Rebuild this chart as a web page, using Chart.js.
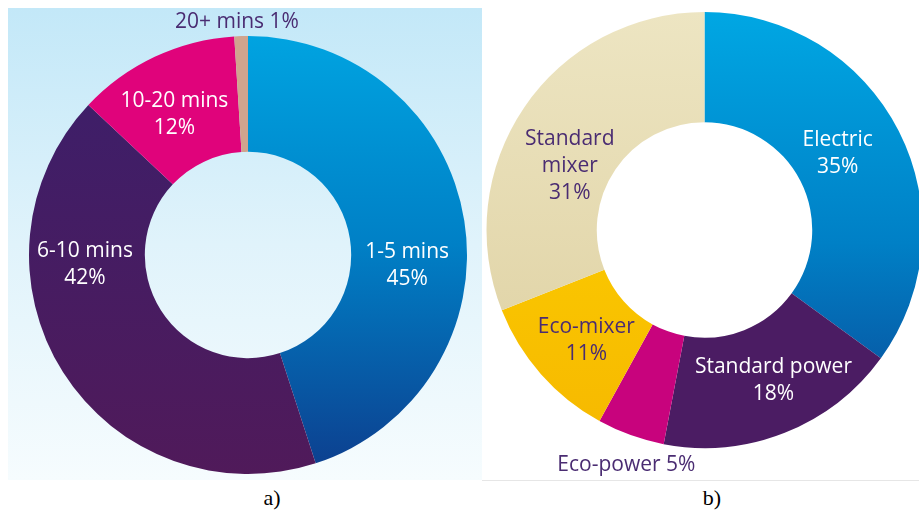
<!DOCTYPE html>
<html>
<head>
<meta charset="utf-8">
<script src="https://cdn.jsdelivr.net/npm/chart.js@4.4.1/dist/chart.umd.min.js"></script>
<style>
  html, body { margin: 0; padding: 0; width: 919px; height: 511px; overflow: hidden; background: #ffffff; }
  #panelA { position: absolute; left: 8px; top: 8px; width: 474px; height: 472px;
            background: linear-gradient(to bottom, #c3e8f8 0%, #e0f3fb 50%, #f6fcfe 100%); }
  #panelB { position: absolute; left: 482px; top: 6px; width: 437px; height: 474px;
            background: #ffffff; border-bottom: 1px solid #e6e6e6; }
  canvas { position: absolute; left: 0; top: 0; }
  .cap { position: absolute; top: 485px; font-family: "Liberation Serif", "Times New Roman", serif;
         font-size: 22px; color: #000; width: 40px; text-align: center; }
</style>
</head>
<body>
<div id="panelA"><canvas id="chartA" width="474" height="472"></canvas></div>
<div id="panelB"><canvas id="chartB" width="437" height="474"></canvas></div>
<div class="cap" style="left:252px;">a)</div>
<div class="cap" style="left:692px;">b)</div>
<script>
// ---- Data (a): time spent ----
const timeCategories = ["1-5 mins", "6-10 mins", "10-20 mins", "20+ mins"];
const timeValues = [45, 42, 12, 1];
const timeLabelNames = ["1-5 mins", "6-10 mins", "10-20 mins", "20+ mins"];

// ---- Data (b): shower type ----
const showerCategories = ["Electric", "Standard power", "Eco-power", "Eco-mixer", "Standard mixer"];
const showerValues = [35, 18, 5, 11, 31];
const showerLabelNames = ["Electric", "Standard power", "Eco-power", "Eco-mixer", "Standard\nmixer"];

const FONT = '"Open Sans", "Noto Sans", sans-serif';
const PURPLE_TEXT = '#4a2c72';

function vGrad(ctx, chart, stops) {
  const m = chart.getDatasetMeta(0);
  const a = m.data[0];
  let top = 0, bottom = chart.height;
  if (a && a.outerRadius) { top = a.y - a.outerRadius; bottom = a.y + a.outerRadius; }
  const g = ctx.createLinearGradient(0, top, 0, bottom);
  stops.forEach(s => g.addColorStop(s[0], s[1]));
  return g;
}

const labelPlugin = {
  id: 'sliceLabels',
  afterDatasetsDraw(chart, args, opts) {
    const ctx = chart.ctx;
    const meta = chart.getDatasetMeta(0);
    const ds = chart.data.datasets[0];
    ctx.save();
    ctx.textAlign = 'center';
    ctx.textBaseline = 'middle';
    ctx.font = opts.fontSize + 'px ' + FONT;
    meta.data.forEach((arc, i) => {
      const cfg = opts.items[i];
      const c = arc.getCenterPoint();
      const lines = opts.names[i].split('\n');
      const pct = ds.data[i] + '%';
      if (cfg.inline) { lines[lines.length - 1] += ' ' + pct; } else { lines.push(pct); }
      const lh = opts.lineHeight;
      const x = c.x + cfg.dx;
      const y0 = c.y + cfg.dy - (lines.length - 1) * lh / 2;
      ctx.fillStyle = cfg.color;
      lines.forEach((ln, k) => ctx.fillText(ln, x, y0 + k * lh));
    });
    ctx.restore();
  }
};

const baseOpts = {
  responsive: false,
  animation: false,
  events: [],
  plugins: { legend: { display: false }, tooltip: { enabled: false } }
};

// Chart (a)
new Chart(document.getElementById('chartA'), {
  type: 'doughnut',
  data: {
    labels: timeCategories,
    datasets: [{
      data: timeValues,
      radius: 219,
      cutout: 106,
      borderWidth: 0,
      hoverOffset: 0,
      clip: false,
      backgroundColor: (c) => {
        const ch = c.chart, ctx = ch.ctx;
        switch (c.dataIndex) {
          case 0: return vGrad(ctx, ch, [[0, '#00a8e4'], [0.5, '#0080c6'], [1, '#0d3c8c']]);
          case 1: return vGrad(ctx, ch, [[0, '#3b1f6b'], [1, '#501a5a']]);
          case 2: return '#e0037b';
          default: return '#d0a48e';
        }
      }
    }]
  },
  options: Object.assign({}, baseOpts, {
    layout: { padding: { left: 6, right: 0, top: 22, bottom: 0 } },
    plugins: Object.assign({}, baseOpts.plugins, {
      sliceLabels: {
        fontSize: 21, lineHeight: 27,
        names: timeLabelNames,
        items: [
          { dx: 0, dy: 36, color: '#ffffff' },
          { dx: -27, dy: -77, color: '#ffffff' },
          { dx: -5, dy: 5, color: '#ffffff' },
          { dx: -6, dy: -72, color: PURPLE_TEXT, inline: true }
        ]
      }
    })
  }),
  plugins: [labelPlugin]
});

// Chart (b)
new Chart(document.getElementById('chartB'), {
  type: 'doughnut',
  data: {
    labels: showerCategories,
    datasets: [{
      data: showerValues,
      radius: 218,
      cutout: 106,
      borderWidth: 0,
      hoverOffset: 0,
      clip: false,
      backgroundColor: (c) => {
        const ch = c.chart, ctx = ch.ctx;
        switch (c.dataIndex) {
          case 0: return vGrad(ctx, ch, [[0, '#00a8e4'], [0.5, '#0080c6'], [1, '#0d3c8c']]);
          case 1: return '#4b1c63';
          case 2: return '#c8037d';
          case 3: return vGrad(ctx, ch, [[0, '#ffd800'], [1, '#f6b800']]);
          default: return vGrad(ctx, ch, [[0, '#ede5c2'], [1, '#ddcf9f']]);
        }
      }
    }]
  },
  options: Object.assign({}, baseOpts, {
    layout: { padding: { left: 8, right: 0, top: 0, bottom: 26 } },
    plugins: Object.assign({}, baseOpts.plugins, {
      sliceLabels: {
        fontSize: 21, lineHeight: 27,
        names: showerLabelNames,
        items: [
          { dx: -12, dy: -3, color: '#ffffff' },
          { dx: 9, dy: -1, color: '#ffffff' },
          { dx: -23, dy: 82, color: PURPLE_TEXT, inline: true },
          { dx: 4, dy: 3, color: PURPLE_TEXT },
          { dx: 0, dy: 28, color: PURPLE_TEXT }
        ]
      }
    })
  }),
  plugins: [labelPlugin]
});
</script>
</body>
</html>
